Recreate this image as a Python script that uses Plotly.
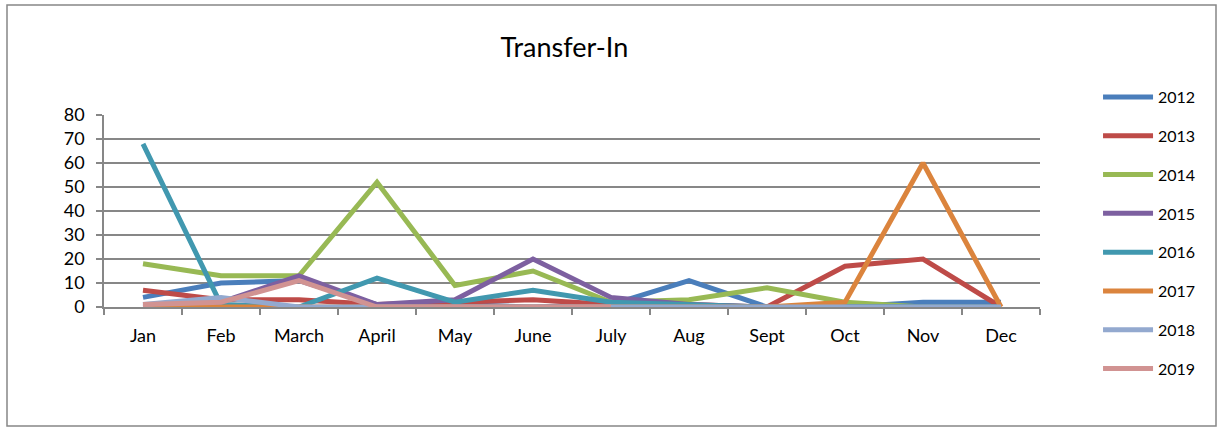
import plotly.graph_objects as go

months = ["Jan", "Feb", "March", "April", "May", "June", "July", "Aug", "Sept", "Oct", "Nov", "Dec"]
years = ["2012", "2013", "2014", "2015", "2016", "2017", "2018", "2019"]

v2012 = [4, 10, 11, 1, 1, 0, 1, 11, 0, 0, 2, 2]
v2013 = [7, 3, 3, 1, 2, 3, 1, 1, 0, 17, 20, 0]
v2014 = [18, 13, 13, 52, 9, 15, 2, 3, 8, 2, 0, 0]
v2015 = [0, 2, 13, 1, 3, 20, 4, 1, 0, 0, 0, 0]
v2016 = [68, 1, 0, 12, 2, 7, 2, 1, 0, 0, 0, 0]
v2017 = [0, 0, 0, 0, 0, 0, 0, 0, 0, 2, 60, 0]
v2018 = [1, 4, 0, 0, 0, 0, 0, 0, 0, 0, 0, 0]
v2019 = [1, 2, 11, 0, 0, 0, 0, None, None, None, None, None]

series = [v2012, v2013, v2014, v2015, v2016, v2017, v2018, v2019]
colors = ["#4A7EBB", "#BE4B48", "#98B954", "#7D60A0", "#4198AF", "#DB843D", "#93A9CF", "#D19392"]

FONT = "Lato"
fig = go.Figure()
for name, vals, col in zip(years, series, colors):
    fig.add_trace(go.Scatter(
        x=months, y=vals, name=name, mode="lines",
        line=dict(color=col, width=5), legendgroup=name,
    ))

grid = "#878787"
fig.update_layout(
    width=1219, height=429,
    margin=dict(l=104, r=179, t=115, b=122, autoexpand=False),
    paper_bgcolor="white", plot_bgcolor="white",
    font=dict(family=FONT, size=18, color="black"),
    title=dict(text="Transfer-In", x=0.463, xanchor="center", y=0.89, yanchor="middle",
               font=dict(family=FONT, size=27, color="black")),
    showlegend=True,
    legend=dict(x=1.062, xanchor="left", y=1.182, yanchor="top",
                maxheight=400, itemwidth=50,
                tracegroupgap=15, font=dict(family=FONT, size=16),
                bgcolor="rgba(0,0,0,0)"),
    xaxis=dict(type="category", range=[-0.5, 11.5], showgrid=False,
               showline=True, linecolor=grid, linewidth=1.5,
               ticks="outside", tickson="boundaries", ticklen=6, tickcolor=grid, tickwidth=1.5,
               ticklabelstandoff=12),
    yaxis=dict(range=[0, 80], dtick=10, showgrid=True, gridcolor=grid, gridwidth=1.5,
               showline=True, linecolor=grid, linewidth=1.5, zeroline=False,
               ticks="outside", ticklen=6, tickcolor=grid, tickwidth=1.5,
               ticklabelstandoff=8),
    shapes=[dict(type="rect", xref="paper", yref="paper",
                 x0=(7 - 104) / 936, x1=(1216 - 104) / 936,
                 y0=(307 - 426) / 192, y1=(307 - 5) / 192,
                 line=dict(color=grid, width=1.5), layer="below")],
)
fig.write_html("out.html", config={"displayModeBar": False},
               post_script="document.body.style.margin='0';document.body.style.overflow='hidden';")
